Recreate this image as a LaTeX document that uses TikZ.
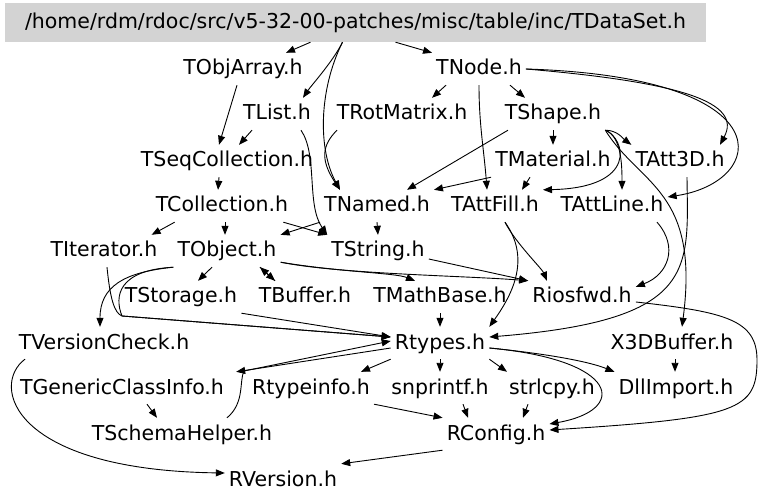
\documentclass[tikz,border=0pt]{standalone}
\usepackage{fontspec}
\setmainfont{DejaVu Sans}
\usetikzlibrary{arrows.meta}

\definecolor{boxgray}{RGB}{211,211,211}

\begin{document}
\begin{tikzpicture}
    [
        x=1pt, y=-1pt,
        hdr/.style={font=\fontsize{20.5}{24}\selectfont, text height=18pt, text depth=6pt, inner xsep=4pt, inner ysep=4pt},
        root/.style={hdr, fill=boxgray, minimum width=701pt, minimum height=39pt},
        dep/.style={-{Triangle[length=9pt, width=7pt]}, line width=0.9pt}
    ]
        \useasboundingbox (0,0) rectangle (768,502);
        % =========================================================================
        % NODES
        % =========================================================================
        \node [root] (dataset) at (355.5,22.5) {/home/rdm/rdoc/src/v5-32-00-patches/misc/table/inc/TDataSet.h};
        % --- Row 1 ---
        \node [hdr] (objarray) at (243,69) {TObjArray.h};
        \node [hdr] (tnode) at (479,69) {TNode.h};
        % --- Row 2 ---
        \node [hdr] (list) at (277,114) {TList.h};
        \node [hdr] (rotmatrix) at (402,114) {TRotMatrix.h};
        \node [hdr] (shape) at (553,114) {TShape.h};
        % --- Row 3 ---
        \node [hdr] (seqcoll) at (227,161) {TSeqCollection.h};
        \node [hdr] (material) at (553,161) {TMaterial.h};
        \node [hdr] (att3d) at (680,161) {TAtt3D.h};
        % --- Row 4 ---
        \node [hdr] (collection) at (222,206) {TCollection.h};
        \node [hdr] (named) at (377,206) {TNamed.h};
        \node [hdr] (attfill) at (495,206) {TAttFill.h};
        \node [hdr] (attline) at (612,206) {TAttLine.h};
        % --- Row 5 ---
        \node [hdr] (iterator) at (104,251) {TIterator.h};
        \node [hdr] (object) at (227,251) {TObject.h};
        \node [hdr] (string) at (378,251) {TString.h};
        % --- Row 6 ---
        \node [hdr] (storage) at (181,297) {TStorage.h};
        \node [hdr] (buffer) at (305,297) {TBuffer.h};
        \node [hdr] (mathbase) at (440,297) {TMathBase.h};
        \node [hdr] (riosfwd) at (582,297) {Riosfwd.h};
        % --- Row 7 ---
        \node [hdr] (versioncheck) at (104,343) {TVersionCheck.h};
        \node [hdr] (rtypes) at (440,343) {Rtypes.h};
        \node [hdr] (x3dbuffer) at (672,343) {X3DBuffer.h};
        % --- Row 8 ---
        \node [hdr] (genclassinfo) at (122,388) {TGenericClassInfo.h};
        \node [hdr] (rtypeinfo) at (311,388) {Rtypeinfo.h};
        \node [hdr] (snprintf) at (440,388) {snprintf.h};
        \node [hdr] (strlcpy) at (552,388) {strlcpy.h};
        \node [hdr] (dllimport) at (676,388) {DllImport.h};
        % --- Row 9 ---
        \node [hdr] (schemahelper) at (182,434) {TSchemaHelper.h};
        \node [hdr] (rconfig) at (496,434) {RConfig.h};
        % --- Row 10 ---
        \node [hdr] (rversion) at (283,480) {RVersion.h};
        % --- bends ---
        \coordinate (iterbend) at (122,316);
        \coordinate (helperbend) at (244,371);
        \coordinate (rioshook) at (757,360);

        % =========================================================================
        % PATHS
        % =========================================================================
        % --- TDataSet.h ---
        \draw [dep] ([xshift=-45pt]dataset.south) -- ([xshift=43pt]objarray.north);
        \draw [dep] ([xshift=-13pt]dataset.south) .. controls +(-10,20) and +(8,-12) .. ([xshift=26pt]list.north);
        \draw [dep] ([xshift=-13pt]dataset.south) .. controls +(-24,48) and +(-22,-40) .. ([xshift=-37pt]named.north);
        \draw [dep] ([xshift=40pt]dataset.south) -- (tnode.north west);
        % --- TObjArray.h, TList.h, TRotMatrix.h ---
        \draw [dep] ([xshift=-6pt]objarray.south) -- ([xshift=-8pt]seqcoll.north);
        \draw [dep] ([xshift=-25pt]list.south) -- ([xshift=12pt]seqcoll.north);
        \draw [dep] ([xshift=24pt]list.south) .. controls +(17,25) and +(-21,-30) .. (string.north west);
        \draw [dep] ([xshift=-65pt]rotmatrix.south) .. controls +(-15,15) and +(-20,-30) .. ([xshift=-37pt]named.north);
        % --- TNode.h ---
        \draw [dep] ([xshift=-33pt]tnode.south) -- ([xshift=30pt]rotmatrix.north);
        \draw [dep] ([xshift=31pt]tnode.south) -- ([xshift=-28pt]shape.north);
        \draw [dep] (tnode.south) .. controls +(0,40) and +(-3,-40) .. ([xshift=-8pt]attfill.north);
        \draw [dep] (tnode.east) .. controls +(153,13) and +(23,-43) .. ([xshift=40pt]att3d.north);
        \draw [dep] (tnode.east) .. controls +(262,8) and +(100,-15) .. ([yshift=9pt]attline.east);
        % --- TShape.h ---
        \draw [dep] (shape.south) -- (material.north);
        \draw [dep] ([xshift=-45pt]shape.south) -- ([xshift=30pt]named.north);
        \draw [dep] (shape.south east) .. controls +(12,0) and +(-8,-6) .. (att3d.north west);
        \draw [dep] (shape.south east) .. controls +(16,6) and +(0,-25) .. ([xshift=10pt]attline.north);
        \draw [dep] (shape.south east) .. controls +(20,8) and +(96,-2) .. (attfill.north east);
        \draw [dep] (shape.south east) .. controls +(34,55) and +(18,-137) .. ([xshift=10pt]x3dbuffer.north);
        % --- TMaterial.h, TAtt3D.h ---
        \draw [dep] ([xshift=-23pt]material.south) -- ([xshift=27pt]attfill.north);
        \draw [dep] (material.south west) -- (named.north east);
        \draw [dep] ([xshift=7pt]att3d.south) .. controls +(1,93) and +(209,-17) .. ([yshift=6pt]rtypes.east);
        % --- TSeqCollection.h, TCollection.h, TNamed.h ---
        \draw [dep] ([xshift=-8pt]seqcoll.south) -- ([xshift=-4pt]collection.north);
        \draw [dep] ([xshift=23pt]collection.south west) -- ([xshift=-10pt]iterator.north east);
        \draw [dep] ([xshift=3pt]collection.south) -- ([xshift=-2pt]object.north);
        \draw [dep] ([xshift=-9pt]collection.south east) -- (string.north west);
        \draw [dep] (named.south) -- (string.north);
        \draw [dep] (named.south west) -- (object.north east);
        % --- TObject.h ---
        \draw [dep] ([xshift=-15pt]object.south) -- ([xshift=17pt]storage.north);
        \draw [dep] ([xshift=33pt]object.south) -- ([xshift=-30pt]buffer.north);
        \draw [dep] ([xshift=-30pt]buffer.north) -- ([xshift=33pt]object.south);
        \draw [dep] (object.south west) .. controls +(-50,5) and +(0,-40) .. ([xshift=-4pt]versioncheck.north);
        \draw [dep] (object.south west) .. controls +(-55,3) and +(-8,-20) .. (iterbend) -- ([yshift=6pt]rtypes.west);
        \draw [dep] ([yshift=5pt]object.south east) .. controls +(60,10) and +(-20,-8) .. ([xshift=-25pt]mathbase.north);
        \draw [dep] ([yshift=5pt]object.south east) .. controls +(60,12) and +(-60,-5) .. (riosfwd.north west);
        % --- TIterator.h, TString.h, TStorage.h, TMathBase.h ---
        \draw [dep] ([xshift=3pt]iterator.south) .. controls +(3,30) and +(-8,-3) .. (iterbend) -- ([yshift=6pt]rtypes.west);
        \draw [dep] ([yshift=-8pt]string.east) -- (riosfwd.north west);
        \draw [dep] (storage.south east) -- ([yshift=6pt]rtypes.west);
        \draw [dep] (mathbase.south) -- (rtypes.north);
        % --- TAttFill.h, TAttLine.h, Riosfwd.h, X3DBuffer.h ---
        \draw [dep] ([xshift=10pt]attfill.south) .. controls +(10,20) and +(-5,-12) .. ([xshift=-35pt]riosfwd.north);
        \draw [dep] ([xshift=10pt]attfill.south) .. controls +(25,35) and +(25,-35) .. (rtypes.north east);
        \draw [dep] ([xshift=45pt]attline.south) .. controls +(22,25) and +(32,-12) .. ([yshift=-6pt]riosfwd.north east);
        \draw [dep] ([yshift=-5pt]riosfwd.east) .. controls +(90,10) and +(0,-40) .. (rioshook) .. controls +(0,50) and +(190,-12) .. ([yshift=4pt]rconfig.east);
        \draw [dep] ([xshift=3pt]x3dbuffer.south) -- ([xshift=-1pt]dllimport.north);
        % --- Rtypes.h ---
        \draw [dep] ([yshift=-5pt]rtypes.west) -- ([xshift=8pt]genclassinfo.north east);
        \draw [dep] (rtypes.south west) -- ([xshift=-13pt]rtypeinfo.north east);
        \draw [dep] (rtypes.south) -- (snprintf.north);
        \draw [dep] (rtypes.south east) -- ([xshift=-45pt]strlcpy.north);
        \draw [dep] ([yshift=-5pt]rtypes.east) .. controls +(60,6) and +(-25,-10) .. (dllimport.north west);
        \draw [dep] ([yshift=-5pt]rtypes.east) .. controls +(131,12) and +(79,-14) .. ([yshift=10pt]rconfig.east);
        % --- lower rows ---
        \draw [dep] ([xshift=25pt]genclassinfo.south) -- ([xshift=-25pt]schemahelper.north);
        \draw [dep] ([xshift=45pt]schemahelper.north) .. controls +(18,-15) and +(-5,10) .. (helperbend) -- ([yshift=2pt]rtypes.west);
        \draw [dep] (rtypeinfo.south east) -- (rconfig.north west);
        \draw [dep] ([xshift=23pt]snprintf.south) -- ([xshift=-28pt]rconfig.north);
        \draw [dep] ([xshift=-24pt]strlcpy.south) -- ([xshift=27pt]rconfig.north);
        \draw [dep] (rconfig.south west) -- (rversion.north east);
        \draw [dep] ([xshift=-79pt]versioncheck.south) .. controls +(-35,26) and +(-213,-3) .. ([yshift=7pt]rversion.west);

\end{tikzpicture}
\end{document}
